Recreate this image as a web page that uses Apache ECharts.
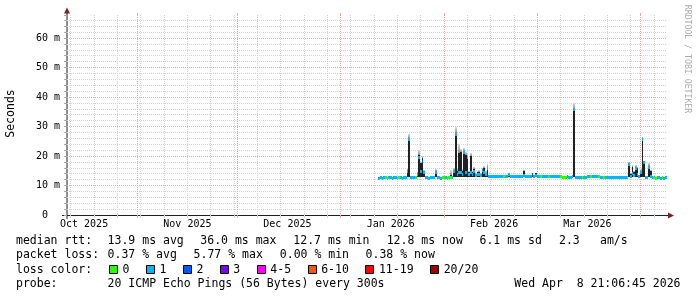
<!DOCTYPE html>
<html><head><meta charset="utf-8">
<script src="https://cdn.jsdelivr.net/npm/echarts@6/dist/echarts.min.js"></script>
<style>html,body{margin:0;padding:0;background:#fff;}#c{width:697px;height:297px;}</style>
</head><body><div id="c"></div>
<script>
// ---------------- data ----------------
const rangeStart = '2025-10-10T21:06:45Z';
const rangeEnd = '2026-04-08T21:06:45Z';
const sampleStart = '2026-01-12T12:00:00Z';
const sampleStepHours = 12;
const yMaxMs = 67.8;

// median rtt (ms), one value per 12 h sample
const medianMs = [
 12.7,12.8,12.7,12.8,12.8,12.7,12.8,12.8,12.7,12.8,
 12.8,12.7,12.8,12.8,12.7,12.8,12.9,15.0,25.8,13.0,
 12.8,12.8,12.8,14.0,19.5,15.0,18.2,14.5,12.8,12.8,
 12.7,12.8,12.8,12.9,14.5,12.8,12.8,12.7,12.8,12.8,
 12.8,12.7,12.8,12.8,13.0,15.0,27.3,14.0,14.5,14.5,
 14.0,21.5,14.5,19.5,14.0,14.5,14.0,15.0,13.5,13.8,
 14.0,13.5,15.2,14.5,14.0,16.0,13.3,13.2,13.2,13.3,
 13.2,13.2,13.2,13.3,13.2,13.2,13.2,13.3,13.9,13.2,
 13.2,13.3,13.2,13.2,13.2,13.3,13.2,13.6,13.2,13.2,
 13.3,13.2,13.9,13.3,13.4,13.1,13.1,13.1,13.2,13.1,
 13.1,13.1,13.1,13.2,13.1,13.1,13.2,13.1,13.1,13.1,
 13.0,13.0,13.0,13.1,13.0,13.0,13.1,36.0,13.0,12.9,
 12.9,13.0,12.9,12.9,13.0,13.1,13.1,13.1,13.2,13.2,
 13.1,13.1,13.1,13.0,13.0,13.0,12.9,12.9,13.0,12.9,
 12.9,12.9,13.0,12.9,12.9,12.9,13.0,12.9,12.9,12.9,
 17.2,13.2,14.2,13.5,16.0,14.0,13.3,14.6,25.8,17.8,
 13.0,13.0,16.4,13.3,12.8,12.8,12.7,12.8,12.8,12.7,
 12.8,12.7,12.8
];
// loss colour bucket per sample (index into lossLabels)
const lossBucket = [
 1,1,1,1,0,0,1,1,1,1,
 1,0,0,1,1,1,1,1,1,1,
 1,1,0,1,1,1,2,1,1,1,
 1,1,1,1,1,1,1,1,0,0,
 1,0,0,0,1,1,1,1,1,1,
 1,1,1,1,1,1,1,1,1,1,
 1,1,1,1,1,1,1,1,1,1,
 1,1,1,1,1,0,1,1,1,1,
 1,1,1,1,1,1,1,1,1,1,
 1,1,2,1,1,1,1,0,1,1,
 1,1,0,1,1,1,1,1,1,0,
 0,0,0,1,1,1,1,1,1,1,
 1,1,0,1,1,1,1,0,1,1,
 1,1,0,1,1,0,1,1,1,1,
 1,1,1,1,1,1,1,1,1,0,
 1,1,1,1,1,1,1,1,1,1,
 1,1,1,1,1,0,0,1,1,1,
 0,1,1
];
// smoke (ping spread) where it shows above the median band
const spikeIndex = [17,18,23,24,25,26,27,34,43,45,46,47,48,49,50,51,52,53,54,55,56,57,58,59,60,61,62,63,64,65,78,87,92,94,117,150,151,152,153,154,155,157,158,159,162,163];
const spikeDark  = [15.3,26.2,14.3,20.5,17.5,19.4,14.8,14.8,13.6,15.3,27.7,15.0,21.1,21.5,15.0,21.8,20.3,19.8,14.5,20.0,14.7,15.5,14.0,14.5,14.7,13.9,15.5,15.8,14.4,16.4,13.9,15.0,14.0,14.1,35.8,17.5,14.0,16.4,14.5,16.2,15.8,14.8,26.0,18.1,16.6,15.0];
const spikeTip   = [15.6,27.6,14.6,22.2,18.0,20.0,15.2,15.6,15.2,15.8,29.7,15.5,23.9,22.5,15.5,22.8,21.3,20.8,15.0,20.9,15.0,16.2,14.4,15.0,15.3,14.2,16.0,16.6,14.8,17.3,14.3,15.3,14.4,14.4,37.9,18.1,14.3,17.0,14.8,16.8,16.2,15.5,26.6,18.4,17.5,15.3];
const smokeFloorMs = 12.8;

const lossLabels = ['0','1','2','3','4-5','6-10','11-19','20/20'];
const lossColors = ['#26ff00','#00b8ff','#0059ff','#7e00ff','#ff00ff','#ff5500','#ff0000','#a00000'];

const monthStarts = ['2025-11-01','2025-12-01','2026-01-01','2026-02-01','2026-03-01','2026-04-01'];
const monthLabelDates = ['2025-10-16','2025-11-16','2025-12-16','2026-01-16','2026-02-16','2026-03-16'];
const monthLabels = ['Oct 2025','Nov 2025','Dec 2025','Jan 2026','Feb 2026','Mar 2026'];
const weekStarts = ['2025-10-12','2025-10-19','2025-10-26','2025-11-02','2025-11-09','2025-11-16','2025-11-23','2025-11-30',
 '2025-12-07','2025-12-14','2025-12-21','2025-12-28','2026-01-04','2026-01-11','2026-01-18','2026-01-25',
 '2026-02-01','2026-02-08','2026-02-15','2026-02-22','2026-03-01','2026-03-08','2026-03-15','2026-03-22','2026-03-29','2026-04-05'];

const rttStats = [13.9, 36.0, 12.7, 12.8, 6.1];
const rttStatNames = ['avg','max','min','now','sd'];
const ampsValue = 2.3;
const lossStats = [0.37, 5.77, 0.00, 0.38];
const lossStatNames = ['avg','max','min','now'];
const probeText = '20 ICMP Echo Pings (56 Bytes) every 300s';
const stampText = 'Wed Apr  8 21:06:45 2026';

// ---------------- build ----------------
const ts = s => Date.parse(s.length === 10 ? s + 'T00:00:00Z' : s);
const STEP = sampleStepHours * 3600 * 1000;
const t0 = ts(sampleStart);
const medianData = medianMs.map((v, i) => [t0 + i * STEP, v, lossBucket[i]]);
const smokeData = spikeIndex.map((idx, k) => [t0 + idx * STEP, smokeFloorMs, spikeDark[k], spikeTip[k]]);
const monthTickVals = monthStarts.map(ts);
const monthLabelVals = monthLabelDates.map(ts);
const weekTickVals = weekStarts.map(ts);

const MONO = '"DejaVu Sans Mono"';
const GRID_MINOR = '#d4d4d4';
const GRID_MAJOR = '#e9a7a7';

function baseX(extra) {
  return Object.assign({
    type: 'value', min: ts(rangeStart), max: ts(rangeEnd), gridIndex: 0, scale: true,
    axisLine: {show: false}, axisLabel: {show: false},
    axisTick: {show: false}, splitLine: {show: false}
  }, extra);
}

const xAxes = [
  baseX({position: 'bottom',
    axisTick: {show: true, customValues: weekTickVals, length: 3, lineStyle: {color: GRID_MINOR}},
    splitLine: {show: true, lineStyle: {color: GRID_MINOR, width: 1, type: [1, 1]}}}),
  baseX({position: 'top',
    axisTick: {show: true, customValues: weekTickVals, length: 2, lineStyle: {color: GRID_MINOR}}}),
  baseX({position: 'bottom',
    axisTick: {show: true, customValues: monthTickVals, length: 3, lineStyle: {color: GRID_MAJOR}},
    splitLine: {show: true, lineStyle: {color: GRID_MAJOR, width: 1, type: [1, 1]}},
    axisLabel: {show: true, customValues: monthLabelVals, margin: 4.5, color: '#000',
      fontFamily: MONO, fontSize: 10,
      formatter: v => { const k = monthLabelVals.findIndex(m => Math.abs(m - v) < 1000); return k >= 0 ? monthLabels[k] : ''; }}}),
  baseX({position: 'top',
    axisTick: {show: true, customValues: monthTickVals, length: 2, lineStyle: {color: GRID_MAJOR}}})
];

const yAxes = [
  { type: 'value', min: 0, max: yMaxMs, interval: 2, position: 'left', z: 0,
    axisLine: {show: false}, axisLabel: {show: false},
    axisTick: {show: true, length: 3, lineStyle: {color: '#a8a8a8'}},
    splitLine: {show: true, showMinLine: false, showMaxLine: false, lineStyle: {color: GRID_MINOR, width: 1, type: [1, 1]}} },
  { type: 'value', min: 0, max: yMaxMs, interval: 10, position: 'left', z: 1,
    axisLine: {show: false},
    axisTick: {show: false},
    axisLabel: {show: true, showMaxLabel: false, margin: 7, color: '#000', fontFamily: MONO, fontSize: 10,
      formatter: v => v === 0 ? '0  ' : (v + ' m')},
    splitLine: {show: true, showMinLine: false, showMaxLine: false, lineStyle: {color: GRID_MAJOR, width: 1, type: [1, 1]}} }
];

function renderSmoke(params, api) {
  const t = api.value(0), lo = api.value(1), dk = api.value(2), tip = api.value(3);
  const l = api.coord([t - STEP / 2, lo]), r = api.coord([t + STEP / 2, dk]), p = api.coord([t, tip]);
  const x0 = Math.round(l[0]), x1 = Math.max(Math.round(r[0]), x0 + 1);
  const yLo = Math.round(l[1]), yDk = Math.round(r[1]), yTip = Math.round(p[1]);
  return {type: 'group', children: [
    {type: 'rect', shape: {x: x0, y: yTip, width: x1 - x0, height: Math.max(0, yDk - yTip)},
     style: {fill: new echarts.graphic.LinearGradient(0, 0, 0, 1, [{offset: 0, color: '#dcdcdc'}, {offset: 1, color: '#8c8c8c'}])}},
    {type: 'rect', shape: {x: x0, y: yDk, width: x1 - x0, height: Math.max(0, yLo - yDk)}, style: {fill: '#222222'}}
  ]};
}
function renderMedian(params, api) {
  const t = api.value(0), v = api.value(1), b = api.value(2);
  const l = api.coord([t - STEP / 2, v]), r = api.coord([t + STEP / 2, v]);
  const x0 = Math.round(l[0]), x1 = Math.max(Math.round(r[0]), x0 + 1);
  const yc = Math.round(l[1]);
  return {type: 'rect', shape: {x: x0, y: yc - 1, width: x1 - x0, height: 3}, style: {fill: lossColors[b]}};
}

// ---------------- legend / decorations ----------------
const LEG = '11.5px ' + MONO;
const rowY = [241, 255.3, 269.6, 284];
function txt(x, y, s, extra) {
  return {type: 'text', x: x, y: y, silent: true,
    style: Object.assign({text: s, font: LEG, fill: '#000', align: 'left', verticalAlign: 'middle',
      textAlign: 'left', textVerticalAlign: 'middle'}, extra || {})};
}
const g = [];
g.push({type: 'line', silent: true, shape: {x1: 67, y1: 219, x2: 67, y2: 12}, style: {stroke: '#1f1f1f', lineWidth: 1}});
g.push({type: 'line', silent: true, shape: {x1: 62, y1: 215.5, x2: 669, y2: 215.5}, style: {stroke: '#1f1f1f', lineWidth: 1}});
g.push({type: 'polygon', silent: true, shape: {points: [[668, 212.5], [674, 215.5], [668, 218.5]]}, style: {fill: '#801f1f'}});
g.push({type: 'polygon', silent: true, shape: {points: [[64, 13.5], [67, 7.5], [70, 13.5]]}, style: {fill: '#801f1f'}});
g.push({type: 'text', x: 11, y: 113.5, rotation: Math.PI / 2, silent: true,
  style: {text: 'Seconds', font: '11.5px ' + MONO, fill: '#000', align: 'center', verticalAlign: 'middle', textAlign: 'center', textVerticalAlign: 'middle'}});
g.push({type: 'text', x: 687, y: 59, rotation: -Math.PI / 2, silent: true,
  style: {text: 'RRDTOOL / TOBI OETIKER', font: '8.2px ' + MONO, fill: '#ababab', align: 'center', verticalAlign: 'middle', textAlign: 'center', textVerticalAlign: 'middle'}});
g.push(txt(16, rowY[0], 'median rtt:'));
const rttX = [107.6, 200.3, 293.3, 386.7, 479.5];
rttStats.forEach((v, k) => g.push(txt(rttX[k], rowY[0], v.toFixed(1) + ' ms ' + rttStatNames[k])));
g.push(txt(559, rowY[0], ampsValue.toFixed(1)));
g.push(txt(600, rowY[0], 'am/s'));
g.push(txt(16, rowY[1], 'packet loss:'));
const lossX = [107.6, 193.6, 279.8, 365.6];
lossStats.forEach((v, k) => g.push(txt(lossX[k], rowY[1], v.toFixed(2) + ' % ' + lossStatNames[k])));
g.push(txt(16, rowY[2], 'loss color:'));
let lx = 109;
const CH = 6.95;
lossLabels.forEach((lab, k) => {
  g.push({type: 'rect', silent: true, shape: {x: Math.round(lx) + 0.5, y: 265.5, width: 8, height: 8},
    style: {fill: lossColors[k], stroke: '#000', lineWidth: 1}});
  g.push(txt(lx + 13.5, rowY[2], lab));
  lx = lx + 13.5 + lab.length * CH + 16.5;
});
g.push(txt(16, rowY[3], 'probe:'));
g.push(txt(107.6, rowY[3], probeText));
g.push(txt(680.5, rowY[3], stampText, {align: 'right', textAlign: 'right'}));

const chart = echarts.init(document.getElementById('c'), null, {renderer: 'canvas'});
chart.setOption({
  backgroundColor: '#ffffff',
  animation: false,
  grid: {left: 67, top: 15, width: 600, height: 200, containLabel: false},
  xAxis: xAxes,
  yAxis: yAxes,
  series: [
    {type: 'custom', name: 'smoke', xAxisIndex: 0, yAxisIndex: 0, z: 2, silent: true,
     renderItem: renderSmoke, encode: {x: 0, y: [1, 2, 3]}, data: smokeData},
    {type: 'custom', name: 'median', xAxisIndex: 0, yAxisIndex: 0, z: 3, silent: true,
     renderItem: renderMedian, encode: {x: 0, y: 1}, data: medianData}
  ],
  graphic: {elements: g}
});
</script></body></html>
